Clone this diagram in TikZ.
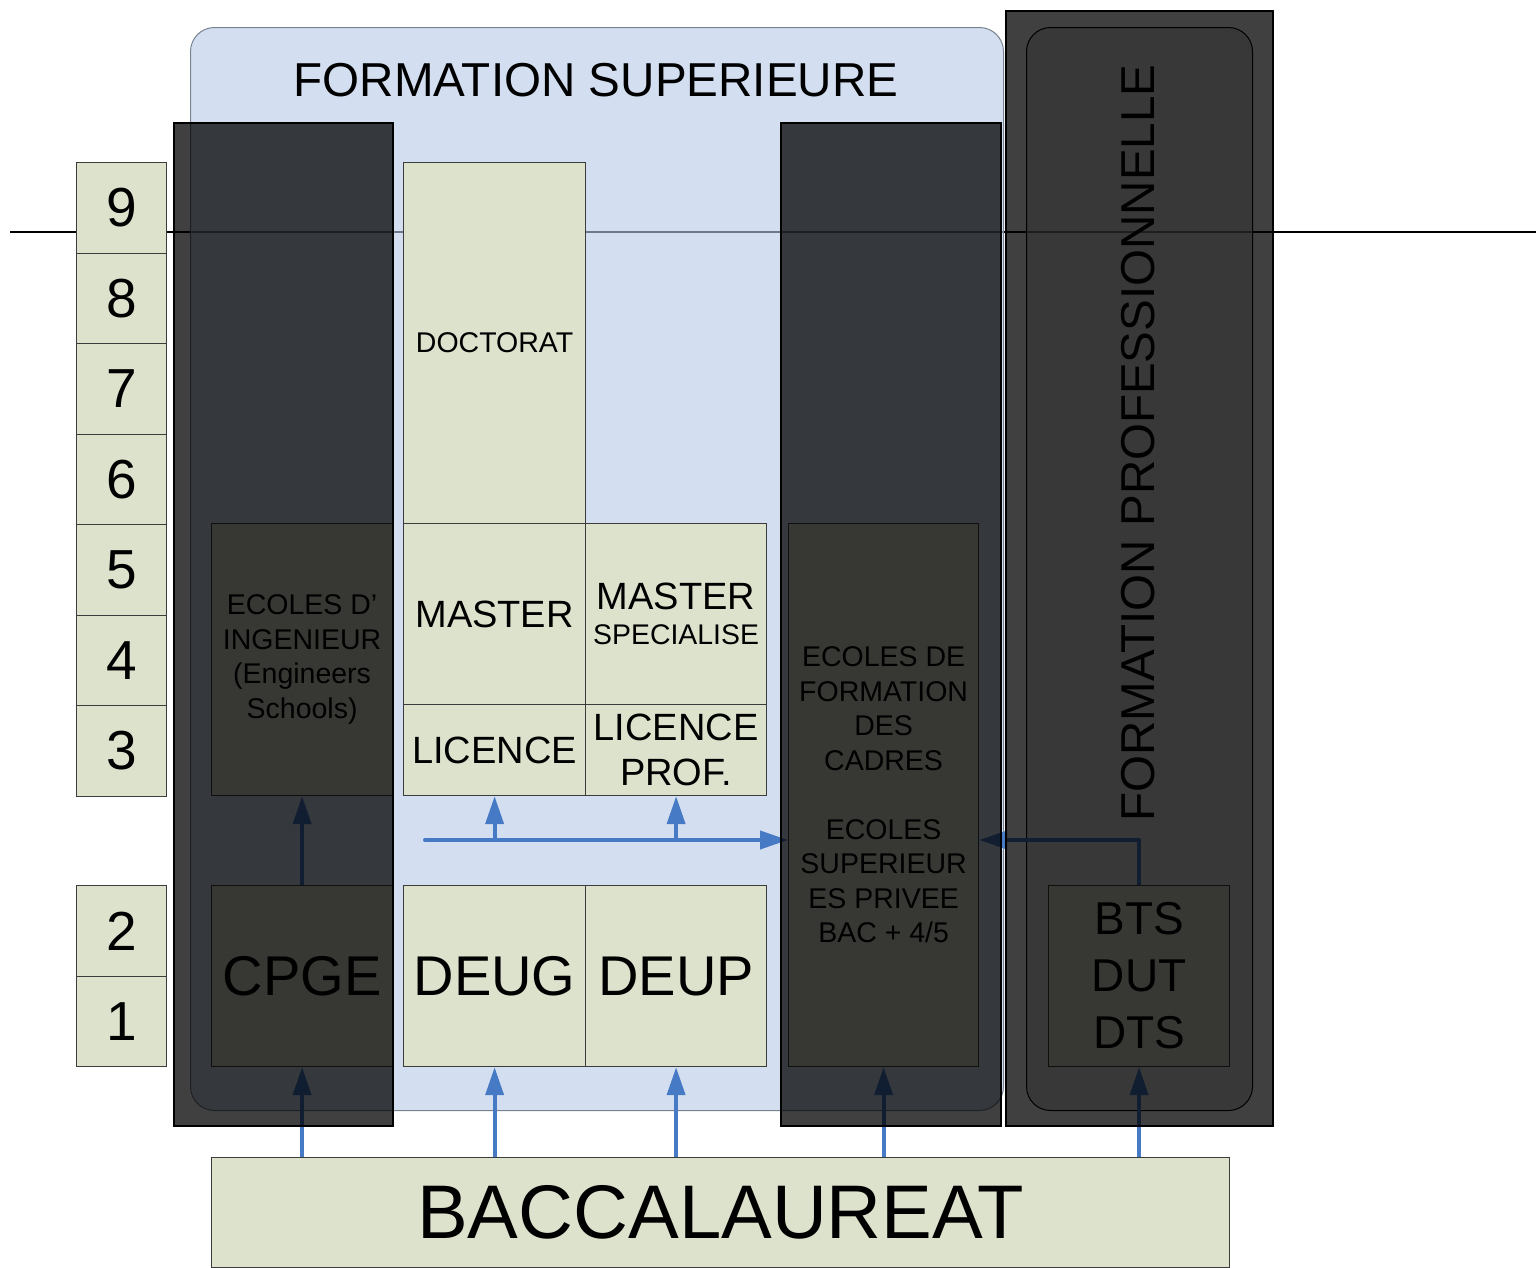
\documentclass[tikz,border=0pt]{standalone}
\usepackage{fontspec}
\setmainfont{Liberation Sans}
\usetikzlibrary{arrows.meta}
\definecolor{beige}{RGB}{221,226,205}
\definecolor{bluefill}{RGB}{182,202,230}
\definecolor{bluedraw}{RGB}{120,130,145}
\definecolor{grayfill}{RGB}{203,203,203}
\definecolor{arrblue}{RGB}{70,122,196}
\definecolor{boxline}{RGB}{60,60,60}
\newcommand{\fsz}[2]{\fontsize{#1}{#2}\selectfont}
\begin{document}
\begin{tikzpicture}[x=1pt,y=-1pt,
  box/.style={draw=boxline, line width=1.2pt, fill=beige, anchor=north west, inner sep=0pt, align=center, text=black},
  numbox/.style={box, minimum width=90pt, minimum height=90.5pt, font=\fsz{55}{60}},
  shade/.style={draw=black, line width=2pt, fill=black, fill opacity=0.75, anchor=north west, inner sep=0pt},
  arr/.style={draw=arrblue, line width=4pt, line join=round, -{Triangle[length=28pt,width=18pt]}},
]
\useasboundingbox (0,0) rectangle (1536,1267);

% reference line
\coordinate (l1) at (10,232);
\coordinate (l2) at (1536,232);
\draw[line width=2.2pt, black] (l1) -- (l2);

% background panels
\node[draw=bluedraw, line width=1pt, fill=bluefill, fill opacity=0.6, rounded corners=24pt,
      minimum width=813pt, minimum height=1083pt, anchor=north west, inner sep=0pt] (fsup) at (190,27) {};
\node[font=\fsz{47.6}{50}, anchor=center] (fsuptitle) at (596,80) {FORMATION SUPERIEURE};
\node[draw=black, line width=1pt, fill=grayfill, fill opacity=0.6, rounded corners=24pt,
      minimum width=226pt, minimum height=1083pt, anchor=north west, inner sep=0pt] (fpro) at (1026,27) {};

% year numbers
\node[numbox] (n9) at (76,162) {9};
\node[numbox] (n8) at (76,252.5) {8};
\node[numbox] (n7) at (76,343) {7};
\node[numbox] (n6) at (76,433.5) {6};
\node[numbox] (n5) at (76,524) {5};
\node[numbox] (n4) at (76,614.5) {4};
\node[numbox] (n3) at (76,705) {3};
\node[numbox] (n2) at (76,885) {2};
\node[numbox] (n1) at (76,975.5) {1};

% university boxes
\node[box, minimum width=182pt, minimum height=361pt, font=\fsz{28.5}{34}] (doct) at (403,162) {DOCTORAT};
\node[box, minimum width=182pt, minimum height=181pt, font=\fsz{38}{42}] (master) at (403,523) {MASTER};
\node[box, minimum width=181pt, minimum height=181pt, font=\fsz{38}{35}] (masterspe) at (585,523) {MASTER\\{\fsz{28.4}{30}SPECIALISE}};
\node[box, minimum width=182pt, minimum height=91pt, font=\fsz{38}{42}] (licence) at (403,704) {LICENCE};
\node[box, minimum width=181pt, minimum height=91pt, font=\fsz{38}{45}] (licpro) at (585,704) {LICENCE\\PROF.};
\node[box, minimum width=182pt, minimum height=181pt, font=\fsz{56}{60}] (deug) at (403,885) {DEUG};
\node[box, minimum width=181pt, minimum height=181pt, font=\fsz{56}{60}] (deup) at (585,885) {DEUP};

% grandes ecoles
\node[box, minimum width=181pt, minimum height=272pt, font=\fsz{28.5}{34.5}] (ing) at (211,523) {ECOLES D’\\INGENIEUR\\(Engineers\\Schools)};
\node[box, minimum width=181pt, minimum height=181pt, font=\fsz{56}{60}] (cpge) at (211,885) {CPGE};
\node[box, minimum width=190pt, minimum height=543pt, font=\fsz{28.5}{34.5}] (ecoles) at (788,523)
  {ECOLES DE\\FORMATION\\DES\\CADRES\\[34.5pt]ECOLES\\SUPERIEUR\\ES PRIVEE\\BAC + 4/5};
\node[box, minimum width=181pt, minimum height=181pt, font=\fsz{46}{57}] (bts) at (1048,885) {BTS\\DUT\\DTS};

% baccalaureat
\node[box, minimum width=1018pt, minimum height=110pt, font=\fsz{76}{80}] (bac) at (211,1157) {BACCALAUREAT};

% arrows
\draw[arr] (bac.north -| cpge.south) -- (cpge.south);
\draw[arr] (bac.north -| deug.south) -- (deug.south);
\draw[arr] (bac.north -| deup.south) -- (deup.south);
\draw[arr] (bac.north -| ecoles.south) -- (ecoles.south);
\draw[arr] (bac.north -| bts.south) -- (bts.south);
\draw[arr] (cpge.north) -- (ing.south);
\coordinate (h0) at (425,840);
\draw[arr, line cap=round] (h0) -- (h0 -| ecoles.west);
\draw[arr] (licence.south |- h0) -- (licence.south);
\draw[arr] (licpro.south |- h0) -- (licpro.south);
\draw[arr] (bts.north) |- (ecoles.east |- h0);

% dark overlays
\node[shade, minimum width=219pt, minimum height=1003pt] (ov1) at (173,122) {};
\node[shade, minimum width=220pt, minimum height=1003pt] (ov2) at (780,122) {};
\node[shade, minimum width=267pt, minimum height=1115pt] (ov3) at (1005,10) {};

% formation professionnelle label
\node[rotate=90, font=\fsz{47.5}{50}, anchor=center] (fprolabel) at (1138,443) {FORMATION PROFESSIONNELLE};
\end{tikzpicture}
\end{document}
